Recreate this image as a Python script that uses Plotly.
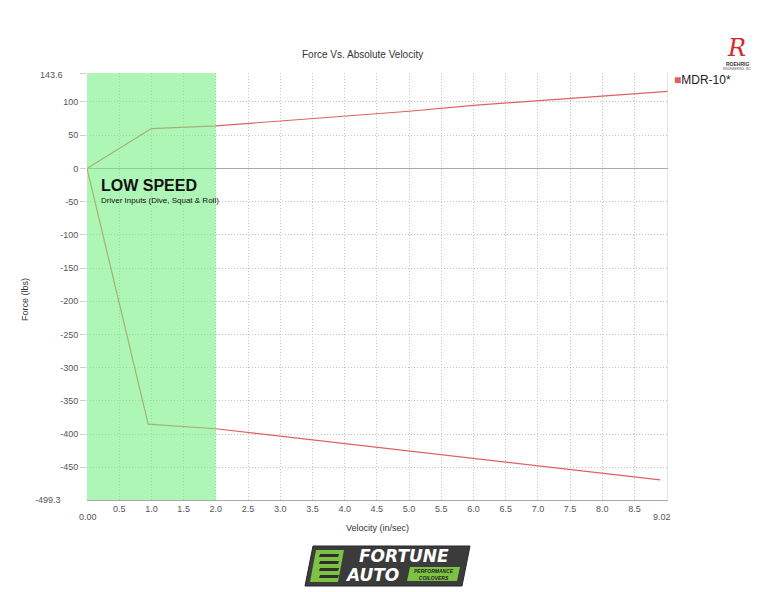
import plotly.graph_objects as go

# ---- data ----
comp_v = [0.0, 1.0, 2.0, 3.0, 4.0, 5.0, 6.0, 7.0, 8.0, 9.02]
comp_f = [0.0, 60, 64, 71, 79, 86, 95, 102, 108, 116]
reb_v = [0.0, 0.95, 2.0, 3.0, 4.0, 5.0, 6.0, 7.0, 8.0, 8.9]
reb_f = [0.0, -385, -392, -403, -414, -425, -436, -448, -458, -469]

x_ticks = [0.5, 1.0, 1.5, 2.0, 2.5, 3.0, 3.5, 4.0, 4.5, 5.0, 5.5, 6.0, 6.5, 7.0, 7.5, 8.0, 8.5]
x_tick_text = ["0.5", "1.0", "1.5", "2.0", "2.5", "3.0", "3.5", "4.0", "4.5", "5.0",
               "5.5", "6.0", "6.5", "7.0", "7.5", "8.0", "8.5"]
y_ticks = [100, 50, 0, -50, -100, -150, -200, -250, -300, -350, -400, -450]
x_min, x_max = 0.0, 9.02
y_min, y_max = -499.3, 143.6
series_name = "MDR-10*"

# page body has an 8px margin; compensate
OFF = 8
W, H = 768 - OFF, 592 - OFF
L, T = 87 - OFF, 73 - OFF
PW, PH = 581, 427
R, B = W - L - PW, H - T - PH


def px(xp):
    return (xp - OFF - L) / PW


def py(yp):
    return (T + PH - (yp - OFF)) / PH


line_col = "#e06060"
font = "Liberation Sans, Arial, sans-serif"
tick_col = "#555555"

fig = go.Figure()
fig.add_trace(go.Scatter(x=comp_v, y=comp_f, mode="lines",
                         line=dict(color=line_col, width=1.2), showlegend=False))
fig.add_trace(go.Scatter(x=reb_v, y=reb_f, mode="lines",
                         line=dict(color=line_col, width=1.2), showlegend=False))

shapes = [
    dict(type="rect", xref="x", yref="y", x0=0, x1=2.0, y0=y_min, y1=y_max,
         fillcolor="rgba(115,240,130,0.58)", line=dict(width=0), layer="above"),
    dict(type="line", xref="x", yref="y", x0=x_max, x1=x_max, y0=y_min, y1=y_max,
         line=dict(color="#c8c8c8", width=1)),
]


def path(pts):
    return "M " + " L ".join(f"{px(a):.5f},{py(b):.5f}" for a, b in pts) + " Z"


shapes += [
    dict(type="path", xref="paper", yref="paper",
         path=path([(313, 546), (470, 546), (462, 586), (305, 586)]),
         fillcolor="#3b3b3b", line=dict(color="#2a2a2a", width=1)),
    dict(type="path", xref="paper", yref="paper",
         path=path([(316, 550), (344, 550), (338, 582), (310, 582)]),
         fillcolor="#7dc242", line=dict(width=0)),
    dict(type="path", xref="paper", yref="paper",
         path=path([(410, 567), (460, 567), (457, 581), (407, 581)]),
         fillcolor="#7dc242", line=dict(width=0)),
]
for k in range(4):
    yy = 554 + k * 7
    shapes.append(dict(type="path", xref="paper", yref="paper",
                       path=path([(320, yy), (339, yy), (338, yy + 3), (319, yy + 3)]),
                       fillcolor="#2f2f2f", line=dict(width=0)))


def ann(text, x, y, size, color="#333", fam=font, xanchor="center", **kw):
    return dict(text=text, xref="paper", yref="paper", x=px(x), y=py(y),
                xanchor=xanchor, yanchor="middle", showarrow=False,
                font=dict(family=fam, size=size, color=color), **kw)


narrow = "Liberation Sans Narrow, Liberation Sans, Arial"
annotations = [
    ann("Force Vs. Absolute Velocity", 362, 55, 10),
    ann("Force (lbs)", 25, 300, 9, textangle=-90),
    ann("Velocity (in/sec)", 377, 528, 9),
    ann(f"{y_max:.1f}", 65, 75, 9, tick_col, xanchor="right"),
    ann(f"{y_min:.1f}", 63, 500, 9, tick_col, xanchor="right"),
    ann(f"{x_min:.2f}", 88, 517, 9, tick_col),
    ann(f"{x_max:.2f}", 662, 517, 9, tick_col),
    ann("<b>LOW SPEED</b>", 149, 185, 16, "#111", narrow),
    ann("Driver Inputs (Dive, Squat & Roll)", 160, 200, 8, "#111", narrow),
    ann(f"<span style='color:{line_col}'>■</span>{series_name}", 672, 80, 12, "#222",
        xanchor="left"),
    # Roehrig logo
    ann("<i>R</i>", 736, 48, 24, "#d42a2a", "DejaVu Serif, serif"),
    ann("<b>ROEHRIG</b>", 737, 64, 5),
    ann("ENGINEERING, INC.", 737, 69, 3, "#555"),
    # Fortune Auto logo text
    ann("<b><i>FORTUNE</i></b>", 404, 556, 17, "white", "DejaVu Sans, sans-serif"),
    ann("<b><i>AUTO</i></b>", 372, 575, 17, "white", "DejaVu Sans, sans-serif"),
    ann("<b><i>PERFORMANCE<br>COILOVERS</i></b>", 434, 574, 5, "#222"),
]

fig.update_layout(
    width=W, height=H,
    margin=dict(l=L, r=R, t=T, b=B, autoexpand=False),
    paper_bgcolor="white", plot_bgcolor="white",
    shapes=shapes, annotations=annotations, showlegend=False,
    xaxis=dict(range=[x_min, x_max], tickvals=x_ticks, ticktext=x_tick_text,
               showgrid=True, gridcolor="#c4c4c4", griddash="1px,2px", gridwidth=1,
               zeroline=False, showline=True, linecolor="#aaaaaa", linewidth=1,
               ticks="", tickfont=dict(family=font, size=9, color=tick_col)),
    yaxis=dict(range=[y_min, y_max], tickvals=y_ticks + [y_max],
               ticktext=[str(v) for v in y_ticks] + [""],
               showgrid=True, gridcolor="#c4c4c4", griddash="1px,2px", gridwidth=1,
               zeroline=True, zerolinecolor="#aaaaaa", zerolinewidth=1,
               showline=False, ticks="outside", ticklen=6, tickcolor="#d0d0d0",
               tickfont=dict(family=font, size=9, color=tick_col)),
)

fig.write_html("out.html")
